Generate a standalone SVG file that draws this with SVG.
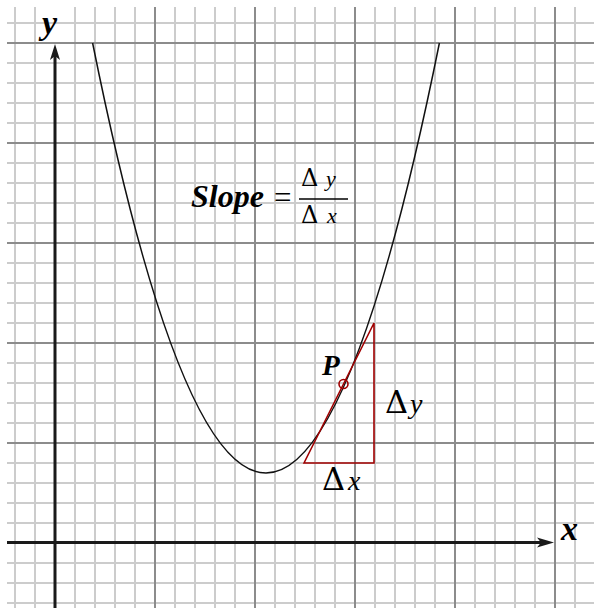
<svg xmlns="http://www.w3.org/2000/svg" width="594" height="608" viewBox="0 0 594 608">
<defs>
<style>
.g{stroke:#cccccc;stroke-width:2;fill:none}
.gd{stroke:#8c8c8c;stroke-width:2;fill:none}
.ax{stroke:#1a1a1a;stroke-width:3;fill:none}
.red{stroke:#a00000;stroke-width:1.6;fill:none}
.bi{font-family:"Liberation Serif",serif;font-weight:bold;font-style:italic;fill:#000}
.sy{font-family:"Liberation Serif",serif;fill:#000}
.d{font-family:"DejaVu Serif",serif;font-style:normal;font-weight:normal}
.it{font-family:"Liberation Serif",serif;font-style:italic}
</style>
<clipPath id="gc"><rect x="7" y="7" width="587" height="601"/></clipPath>
</defs>
<rect width="594" height="608" fill="#fff"/>
<g id="grid" clip-path="url(#gc)">
<path class="g" d="M15 0V608M35 0V608M75 0V608M95 0V608M115 0V608M135 0V608M175 0V608M195 0V608M215 0V608M235 0V608M275 0V608M295 0V608M315 0V608M335 0V608M375 0V608M395 0V608M415 0V608M435 0V608M475 0V608M495 0V608M515 0V608M535 0V608M575 0V608"/>
<path class="g" d="M0 23H594M0 63H594M0 83H594M0 103H594M0 123H594M0 163H594M0 183H594M0 203H594M0 223H594M0 263H594M0 283H594M0 303H594M0 323H594M0 363H594M0 383H594M0 403H594M0 423H594M0 463H594M0 483H594M0 503H594M0 523H594M0 563H594M0 583H594M0 603H594"/>
<path class="gd" d="M155 0V608M255 0V608M355 0V608M455 0V608M555 0V608M0 43H594M0 143H594M0 243H594M0 343H594M0 443H594"/>
</g>
<g id="axes">
<path class="ax" d="M55 50V608"/>
<path class="ax" d="M7 542.5H544"/>
<path d="M55 44 L60 60 L55 56 L50 60 Z" fill="#1a1a1a"/>
<path d="M554 542.5 L537 537.5 L541 542.5 L537 547.5 Z" fill="#1a1a1a"/>
<text class="bi" x="42" y="34" font-size="34">y</text>
<text class="bi" x="561" y="540" font-size="34">x</text>
</g>
<g id="curve">
<path d="M92.6 43 Q266 903 439.4 43" stroke="#111" stroke-width="1.5" fill="none"/>
</g>
<g id="triangle">
<path class="red" d="M304 463 L374 323 L374 463 Z"/>
<circle class="red" cx="343.5" cy="384" r="4.5"/>
<text class="bi" x="322" y="375" font-size="29">P</text>
<text class="sy" x="385" y="413" font-size="28"><tspan class="d" font-size="32">Δ</tspan><tspan class="it" x="410">y</tspan></text>
<text class="sy" x="322" y="490" font-size="28"><tspan class="d" font-size="32">Δ</tspan><tspan class="it" x="348">x</tspan></text>
</g>
<g id="formula">
<text class="bi" x="191" y="207" font-size="32">Slope</text>
<text class="sy" x="274" y="208" font-size="31">=</text>
<text class="sy" x="301" y="186" font-size="22"><tspan class="d" font-size="24">Δ</tspan><tspan class="it" x="326">y</tspan></text>
<path d="M299 199H348" stroke="#000" stroke-width="1.5"/>
<text class="sy" x="301" y="223" font-size="22"><tspan class="d" font-size="24">Δ</tspan><tspan class="it" x="327">x</tspan></text>
</g>
</svg>
